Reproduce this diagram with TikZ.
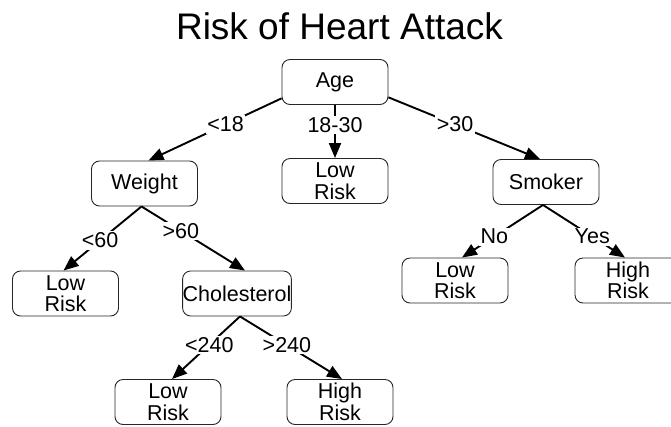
\documentclass[tikz,border=0pt]{standalone}
\usepackage{fontspec}
\setmainfont{Liberation Sans}
\usetikzlibrary{arrows.meta}
\begin{document}
\begin{tikzpicture}[x=1pt,y=-1pt,
  box/.style={draw=black!85, line width=0.9pt, rounded corners=8pt, minimum width=106pt, minimum height=45pt, inner sep=0pt, align=center, font=\fontsize{21.5}{21.5}\selectfont},
  conn/.style={line width=1.9pt, -{Triangle[length=15pt,width=12pt]}},
  lbl/.style={fill=white, inner sep=1.5pt, font=\fontsize{21.5}{22}\selectfont}]
\useasboundingbox (0,0) rectangle (671,426);
\node (title) at (339.5,26) {\fontsize{37}{40}\selectfont Risk of Heart Attack};
\node[box] (age) at (335,82) {Age};
\node[box] (lowm) at (335,181) {Low\\Risk};
\node[box] (weight) at (144.5,183.5) {Weight};
\node[box] (smoker) at (546,182) {Smoker};
\node[box] (lowl) at (65.5,293.5) {Low\\Risk};
\node[box] (chol) at (237,293.5) {Cholesterol};
\node[box] (lowr) at (455,280.5) {Low\\Risk};
\node[box] (highr) at (628,280.5) {High\\Risk};
\node[box] (lowb) at (168,402) {Low\\Risk};
\node[box] (highb) at (340,402) {High\\Risk};
\draw[conn] (age.197) -- node[lbl,pos=0.42] {<18} ([xshift=4pt]weight.north);
\draw[conn] (age.south) -- node[lbl,pos=0.38] {18-30} (lowm.north);
\draw[conn] (age.-16) -- node[lbl,pos=0.44] {>30} ([xshift=-6pt]smoker.north);
\draw[conn] ([xshift=-3pt]weight.south) -- node[lbl,pos=0.53] {<60} ([xshift=-2pt]lowl.north);
\draw[conn] ([xshift=-3pt]weight.south) -- node[lbl,pos=0.38] {>60} ([xshift=8pt]chol.north);
\draw[conn] ([xshift=3pt]chol.south) -- node[lbl,pos=0.45] {<240} ([xshift=4pt]lowb.north);
\draw[conn] ([xshift=3pt]chol.south) -- node[lbl,pos=0.46] {>240} ([xshift=2pt]highb.north);
\draw[conn] ([xshift=-3pt]smoker.south) -- node[lbl,pos=0.6] {No} ([xshift=7pt]lowr.north);
\draw[conn] ([xshift=-3pt]smoker.south) -- node[lbl,pos=0.6] {Yes} ([xshift=-3pt]highr.north);
\end{tikzpicture}
\end{document}
